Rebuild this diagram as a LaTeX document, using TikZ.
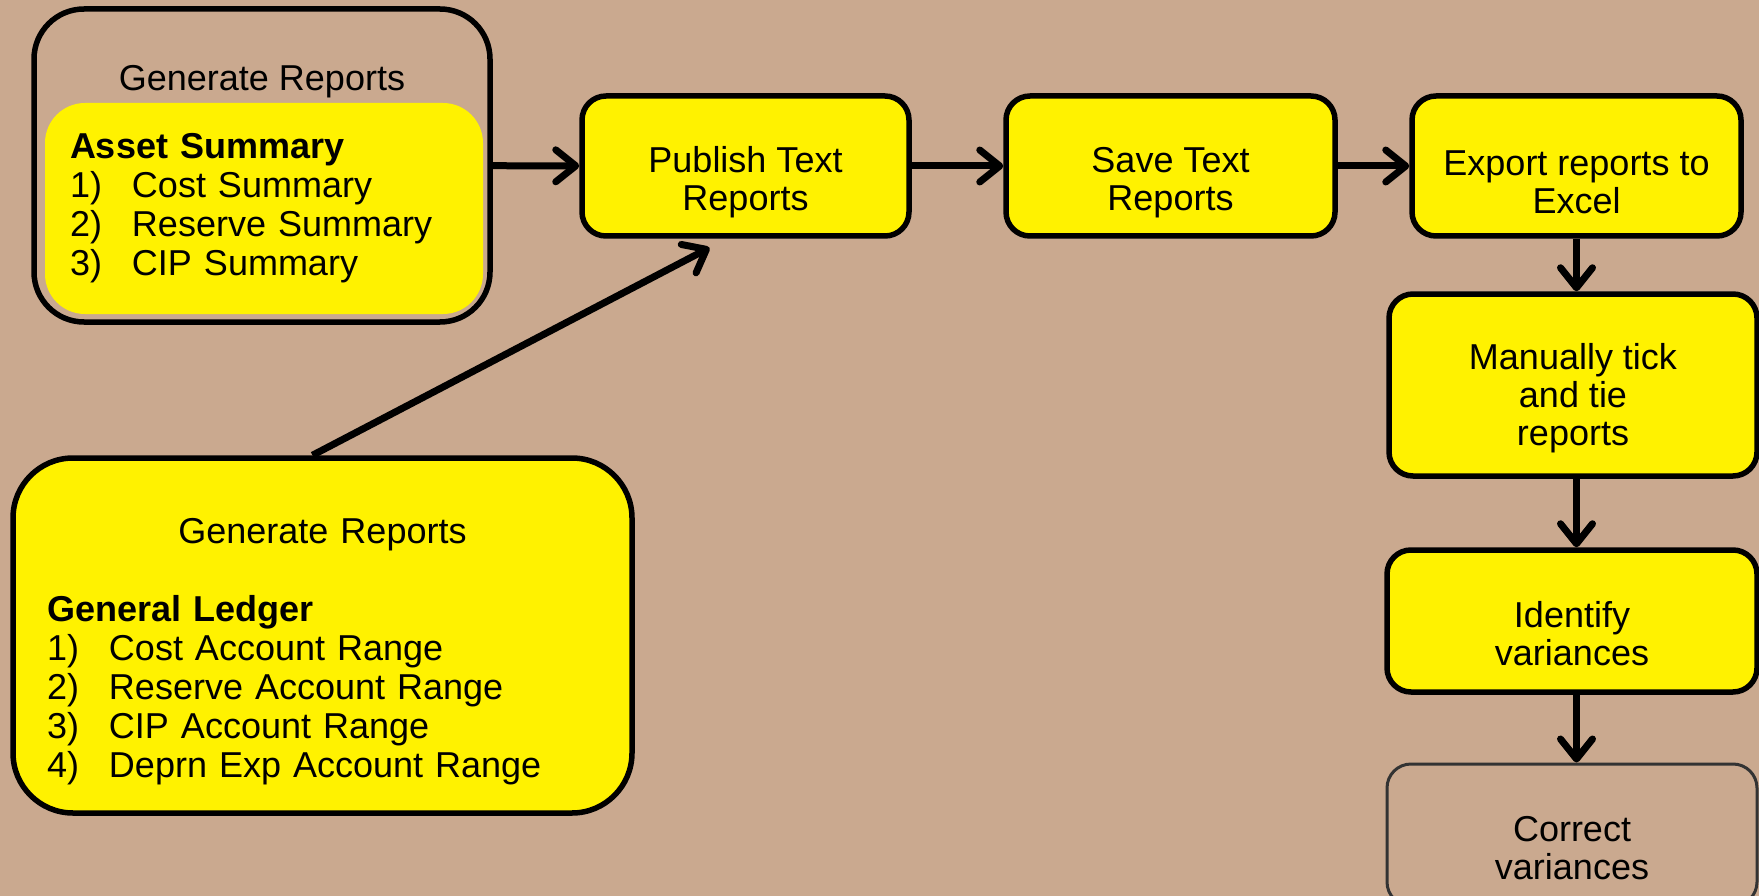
\documentclass[tikz,border=0pt]{standalone}
\usepackage{fontspec}
\setmainfont{Liberation Sans}
\usepackage{xcolor}
\usetikzlibrary{arrows.meta}
\definecolor{tanbg}{RGB}{202,169,143}

\begin{document}
\begin{tikzpicture}[x=1pt,y=-1pt,
	>={Straight Barb[length=20pt,width=32pt,round]},
	stepbox/.style={draw, line width=5.5pt, rounded corners=24pt, fill=yellow, align=center, inner sep=0pt, font=\fontsize{36}{38}\selectfont},
	flow/.style={->, line width=7pt}]
			% Nền
			\useasboundingbox (0,0) rectangle (1759,896);
			\fill[tanbg] (0,0) rectangle (1759,896);
			% Khối báo cáo tài sản
			\node[draw, line width=5.5pt, rounded corners=50pt, minimum width=456, minimum height=313] (gr1) at (262,165.5) {};
			\node[font=\fontsize{36}{38}\selectfont] (gr1title) at (262,82) {Generate Reports};
			\node[fill=yellow, rounded corners=40pt, inner xsep=25pt, inner ysep=0pt, text width=388pt, minimum height=211, align=left, font=\fontsize{36}{39}\selectfont] (asset) at (264,208.5)
{\textbf{Asset Summary}\\ \makebox[62pt][l]{1)}Cost Summary\\ \makebox[62pt][l]{2)}Reserve Summary\\ \makebox[62pt][l]{3)}CIP Summary};
			% Khối sổ cái
			\node[stepbox, rounded corners=60pt, minimum width=619, minimum height=355, text width=551pt, inner xsep=34pt, align=left, font=\fontsize{36}{39}\selectfont] (gr2) at (322.5,635.5)
{\rule{0pt}{57pt}\makebox[\linewidth]{Generate Reports}\\[39pt] \textbf{General Ledger}\\ \makebox[62pt][l]{1)}Cost Account Range\\ \makebox[62pt][l]{2)}Reserve Account Range\\ \makebox[62pt][l]{3)}CIP Account Range\\ \makebox[62pt][l]{4)}Deprn Exp Account Range};
			% Hàng trên
			\node[stepbox, minimum width=327, minimum height=140] (pub) at (745.5,166) {\rule{0pt}{58pt}Publish Text\\Reports};
			\node[stepbox, minimum width=329, minimum height=140] (save) at (1170.5,166) {\rule{0pt}{58pt}Save Text\\Reports};
			\node[stepbox, minimum width=329, minimum height=140] (export) at (1576.5,166) {\rule{0pt}{58pt}Export reports to\\Excel};
			% Cột phải
			\node[stepbox, minimum width=368, minimum height=182] (tick) at (1573,385) {\rule{0pt}{52pt}Manually tick\\and tie\\reports};
			\node[stepbox, minimum width=370, minimum height=142] (ident) at (1572,621) {\rule{0pt}{52pt}Identify\\variances};
			\node[stepbox, fill=none, draw=black!80, line width=3pt] at (1572,835) [minimum width=370, minimum height=142] (fix) {\rule{0pt}{52pt}Correct\\variances};
			% Mũi tên
			\draw[flow] (gr1) -- (pub);
			\draw[flow] (pub) -- (save);
			\draw[flow] (save) -- (export);
			\draw[flow] (export.south) -- (export.south |- tick.north);
			\draw[flow] (tick.south -| export.south) -- (export.south |- ident.north);
			\draw[flow] (ident.south -| export.south) -- (export.south |- fix.north);
			\coordinate (pubfoot) at ([xshift=-36pt,yshift=-9pt]pub.south);
			\draw[flow] ([xshift=-10pt]gr2.north) -- (pubfoot);
		\end{tikzpicture}
\end{document}
